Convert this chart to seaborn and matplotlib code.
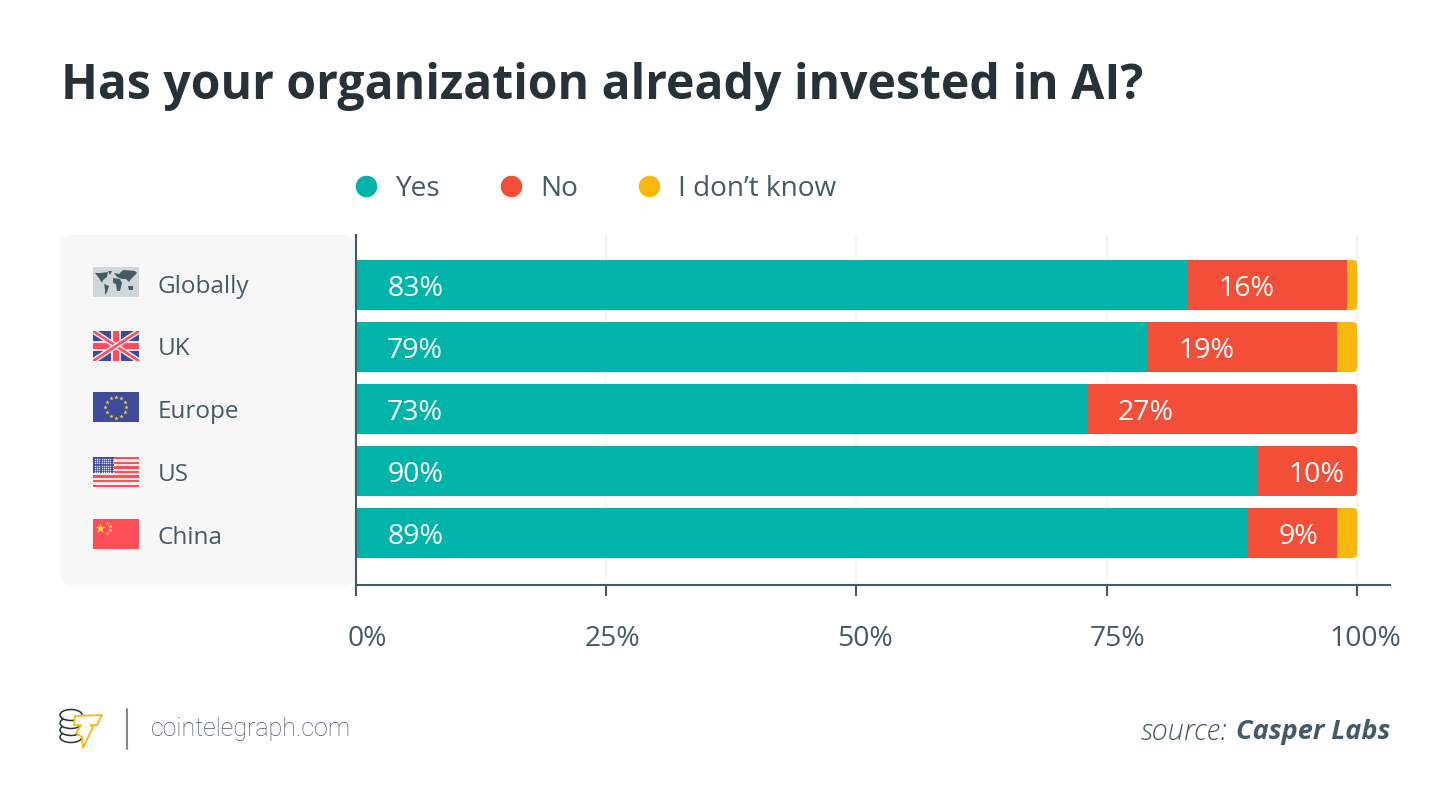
import numpy as np
import seaborn as sns
import matplotlib.pyplot as plt
from matplotlib.lines import Line2D
from matplotlib.patches import FancyBboxPatch, Polygon, Rectangle, Ellipse
from matplotlib.transforms import IdentityTransform, ScaledTranslation

regions = ['Globally', 'UK', 'Europe', 'US', 'China']
yes = np.array([83, 79, 73, 90, 89])
no = np.array([16, 19, 27, 10, 9])
dont_know = np.array([1, 2, 0, 0, 2])
series_names = ['Yes', 'No', 'I don\u2019t know']
x_ticks = [0, 25, 50, 75, 100]
x_labels = ['0%', '25%', '50%', '75%', '100%']

TEAL = '#00B4AA'
RED = '#F24E38'
YELLOW = '#F7B70C'
TEXT = '#455A64'
DARK = '#263238'

sns.set_theme(style='white')
plt.rcParams['font.family'] = ['Open Sans', 'DejaVu Sans']

fig = plt.figure(figsize=(14.5, 8.09), dpi=100)

# overlay in pixel coordinates, for everything that is not the chart itself
bg = fig.add_axes([0, 0, 1, 1], zorder=0)
bg.set_xlim(0, 1450)
bg.set_ylim(809, 0)
bg.axis('off')

ax = fig.add_axes([356 / 1450, 1 - 585 / 809, 1034 / 1450, 350 / 809], zorder=1)
ax.patch.set_alpha(0)

# stacked bars: longest drawn first, shorter ones on top
sns.barplot(x=yes + no + dont_know, y=regions, color=YELLOW, saturation=1, width=50 / 62, linewidth=0, ax=ax)
sns.barplot(x=yes + no, y=regions, color=RED, saturation=1, width=50 / 62, linewidth=0, ax=ax)
sns.barplot(x=yes, y=regions, color=TEAL, saturation=1, width=50 / 62, linewidth=0, ax=ax)

ax.set_xlim(0, 1034 / 10.01)
ax.set_ylim(4 + 52 / 62, -50 / 62)
ax.set_xlabel('')
ax.set_ylabel('')
ax.set_axisbelow(True)
ax.grid(axis='x', color='#F4F4F4', linewidth=1.5)
ax.grid(axis='y', visible=False)

sns.despine(ax=ax, top=True, right=True)
for side in ['left', 'bottom']:
    ax.spines[side].set_color(TEXT)
    ax.spines[side].set_linewidth(1.5)

# rounded right hand end of the bars
fig.canvas.draw()
for patch in ax.patches:
    x0, y0 = ax.transData.transform((0, patch.get_y()))
    x1, y1 = ax.transData.transform((100, patch.get_y() + patch.get_height()))
    clip = FancyBboxPatch((x0 - 20, min(y0, y1)), x1 - x0 + 20, abs(y1 - y0),
                          boxstyle='round,pad=0,rounding_size=4', transform=IdentityTransform())
    patch.set_clip_path(clip)

ax.set_xticks(x_ticks)
ax.set_xticklabels(x_labels)
ax.tick_params(axis='x', length=8, width=1.5, color=TEXT, labelsize=20.3, labelcolor=TEXT, pad=21, bottom=True)
ax.tick_params(axis='y', length=0, labelsize=17.5, labelcolor=TEXT, pad=0)
label_shift = [11, 6, 8, 11, 8]
for label, dx in zip(ax.get_xticklabels(), label_shift):
    label.set_transform(label.get_transform() + ScaledTranslation(dx / 100, 0, fig.dpi_scale_trans))
# the names sit slightly wider apart than the bars
name_shift = [1, 1, 0, -1, -2]
for label, dy in zip(ax.get_yticklabels(), name_shift):
    label.set_ha('left')
    label.set_transform(label.get_transform() + ScaledTranslation(-198.5 / 100, dy / 100, fig.dpi_scale_trans))


# value labels
def value_labels(values, starts):
    for i, (v, s) in enumerate(zip(values, starts)):
        ax.annotate(f'{v}%', (s, i), xytext=(22.5, -3), textcoords='offset points',
                    color='white', fontsize=20.5, ha='left', va='center')


value_labels(yes, np.zeros(5))
value_labels(no, yes)

# legend
handles = [Line2D([], [], marker='o', linestyle='none', markersize=14.5, color=c)
           for c in [TEAL, RED, YELLOW]]
fig.legend(handles, series_names, ncol=3, frameon=False, fontsize=20.2, labelcolor=TEXT,
           loc='center left', bbox_to_anchor=(352 / 1450, 1 - 189 / 809), borderpad=0, borderaxespad=0,
           handlelength=1, handletextpad=0.55, columnspacing=2.02)

# grey panel behind the region names
bg.add_patch(FancyBboxPatch((60, 235), 296, 350, boxstyle='round,pad=0,rounding_size=12',
                            fc='#F7F7F7', ec='none'))

FLAG_W, FLAG_H = 46, 30
BLUE = '#3F4A9C'
FLAG_RED = '#FF4D5A'


def frame(x, y, color):
    r = Rectangle((x, y), FLAG_W, FLAG_H, fc=color, ec='none')
    bg.add_patch(r)
    return r


def world(x, y):
    frame(x, y, '#D0D7DA')
    land = [
        [(2, 6), (8, 6), (15, 5), (14, 10), (10, 13), (9, 16), (6, 11)],
        [(11, 17), (16, 19), (14, 25), (12, 28), (12, 22)],
        [(15, 4), (19, 4), (17, 8)],
        [(21, 6), (26, 7), (30, 3), (42, 4), (44, 6), (38, 12), (36, 15), (33, 12), (29, 12), (24, 10)],
        [(20, 11), (27, 12), (29, 16), (27, 24), (24, 24), (23, 17), (20, 16)],
        [(35, 19), (40, 19), (40, 23), (36, 23)],
    ]
    for poly in land:
        bg.add_patch(Polygon([(x + a, y + b) for a, b in poly], fc=TEXT, ec='none'))


def uk(x, y):
    r = frame(x, y, BLUE)
    for (a, b), (c, d) in [((0, 0), (FLAG_W, FLAG_H)), ((0, FLAG_H), (FLAG_W, 0))]:
        l, = bg.plot([x + a, x + c], [y + b, y + d], color='#F4E6EC', lw=4, solid_capstyle='butt')
        l.set_clip_path(r)
        l, = bg.plot([x + a, x + c], [y + b, y + d], color=FLAG_RED, lw=1.8, solid_capstyle='butt')
        l.set_clip_path(r)
    bg.add_patch(Rectangle((x + 18, y), 10, FLAG_H, fc='#F4E6EC', ec='none'))
    bg.add_patch(Rectangle((x, y + 10), FLAG_W, 10, fc='#F4E6EC', ec='none'))
    bg.add_patch(Rectangle((x + 20, y), 6, FLAG_H, fc=FLAG_RED, ec='none'))
    bg.add_patch(Rectangle((x, y + 12), FLAG_W, 6, fc=FLAG_RED, ec='none'))


def eu(x, y):
    frame(x, y, BLUE)
    ang = np.arange(12) * np.pi / 6
    bg.scatter(x + 23 + 10.5 * np.cos(ang), y + 15 + 10.5 * np.sin(ang), marker='*', s=11,
               color='#F7D23C', linewidths=0)


def us(x, y):
    frame(x, y, '#FBE9EC')
    for i in range(0, 13, 2):
        bg.add_patch(Rectangle((x, y + i * FLAG_H / 13), FLAG_W, FLAG_H / 13, fc=FLAG_RED, ec='none'))
    bg.add_patch(Rectangle((x, y), 21, 16, fc=BLUE, ec='none'))
    xs, ys = np.meshgrid(np.arange(x + 2, x + 21, 2.2), np.arange(y + 2, y + 16, 2.2))
    bg.scatter(xs.ravel(), ys.ravel(), s=1.2, color='#DDDDF0', linewidths=0)


def china(x, y):
    frame(x, y, FLAG_RED)
    bg.scatter([x + 7.5], [y + 8.5], marker='*', s=55, color='#FFD84A', linewidths=0)
    bg.scatter([x + 14, x + 17, x + 17, x + 14], [y + 3.5, y + 7, y + 11, y + 14], marker='*', s=10,
               color='#FFD84A', linewidths=0)


for draw, top in zip([world, uk, eu, us, china], [267, 331, 392, 457, 519]):
    draw(93, top)

# title and footer
bg.text(61, 86, 'Has your organization already invested in AI?', fontsize=34.65, fontweight='bold',
        color=DARK, ha='left', va='center')
bg.text(151, 729, 'cointelegraph.com', fontsize=18, family=['Roboto', 'DejaVu Sans'], fontweight='light',
        color=TEXT, ha='left', va='center')
bg.text(1390, 732, 'Casper Labs', fontsize=19.5, fontweight='bold', fontstyle='italic',
        color=TEXT, ha='right', va='center')
bg.text(1228, 732, 'source:', fontsize=21, fontweight='light', fontstyle='italic',
        color=TEXT, ha='right', va='center')

# logo
bg.plot([127, 127], [709, 749], color='#888888', lw=1.5)
for cy in [737, 730, 723, 715]:
    bg.add_patch(Ellipse((71, cy), 22, 11, fc='white', ec=DARK, lw=1.1))
bg.add_patch(Polygon([(75, 716), (102, 715), (97, 725), (90, 725), (93, 727), (83, 748), (82, 737), (76, 733),
                      (81, 725), (74, 725)], fc='white', ec=YELLOW, lw=1.3))

fig.savefig('out.png', dpi=100)
